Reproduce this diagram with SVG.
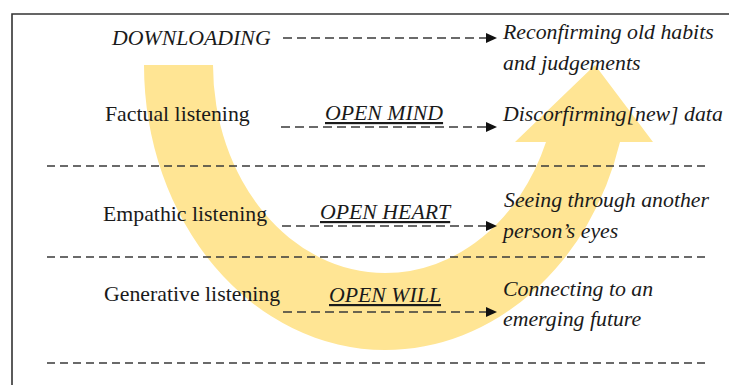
<svg xmlns="http://www.w3.org/2000/svg" width="729" height="385" viewBox="0 0 729 385">
<style>
.lbl{font-family:"Liberation Serif","Times New Roman",serif;font-size:21.8px;fill:#1a1a1a}
.it{font-style:italic}
.ul{text-decoration:underline}
.sep{stroke:#3a3a3a;stroke-width:1.4;stroke-dasharray:8 5;fill:none}
.arr{stroke:#3a3a3a;stroke-width:1.4;stroke-dasharray:9 5;fill:none}
.frame{stroke:#333;stroke-width:1.6;fill:none}
</style>
<defs>
<marker id="ah" markerUnits="userSpaceOnUse" markerWidth="12" markerHeight="10" viewBox="0 0 12 10" refX="4" refY="5" orient="auto">
<path d="M0,0 L11,5 L0,10 Z" fill="#111"/>
</marker>
</defs>
<rect width="729" height="385" fill="#fff"/>
<g id="frame">
<path class="frame" d="M12,385 V14 H729"/>
</g>
<g id="u-arrow">
<path d="M144,65 A241,285 0 0 0 385,350 A244,285 0 0 0 620,142 L653,142 L595,65 L515,142 L546,142 A173,208 0 0 1 385,273 A172,208 0 0 1 213,65 Z" fill="#FFE594"/>
</g>
<g id="connectors">
<line class="sep" x1="47" y1="166" x2="708" y2="166"/>
<line class="sep" x1="47" y1="257" x2="708" y2="257"/>
<line class="sep" x1="47" y1="363" x2="708" y2="363"/>
<line class="arr" x1="283" y1="38" x2="490" y2="38" marker-end="url(#ah)"/>
<line class="arr" x1="281" y1="127" x2="490" y2="127" marker-end="url(#ah)"/>
<line class="arr" x1="282" y1="226" x2="490" y2="226" marker-end="url(#ah)"/>
<line class="arr" x1="283" y1="312" x2="490" y2="312" marker-end="url(#ah)"/>
</g>
<g id="downloading"><text class="lbl it" x="112" y="45">DOWNLOADING</text></g>
<g id="reconfirming"><text class="lbl it" x="503" y="39">Reconfirming old habits</text><text class="lbl it" x="503" y="70">and judgements</text></g>
<g id="factual"><text class="lbl" x="105" y="121">Factual listening</text></g>
<g id="open-mind"><text class="lbl it ul" x="325" y="120">OPEN MIND</text></g>
<g id="disconfirming"><text class="lbl it" x="503" y="121">Discorfirming[new] data</text></g>
<g id="empathic"><text class="lbl" x="103" y="221">Empathic listening</text></g>
<g id="open-heart"><text class="lbl it ul" x="320" y="219">OPEN HEART</text></g>
<g id="seeing"><text class="lbl it" x="504" y="207">Seeing through another</text><text class="lbl it" x="503" y="238">person’s eyes</text></g>
<g id="generative"><text class="lbl" x="104" y="301">Generative listening</text></g>
<g id="open-will"><text class="lbl it ul" x="329" y="302">OPEN WILL</text></g>
<g id="connecting"><text class="lbl it" x="503" y="296">Connecting to an</text><text class="lbl it" x="503" y="326">emerging future</text></g>
</svg>
